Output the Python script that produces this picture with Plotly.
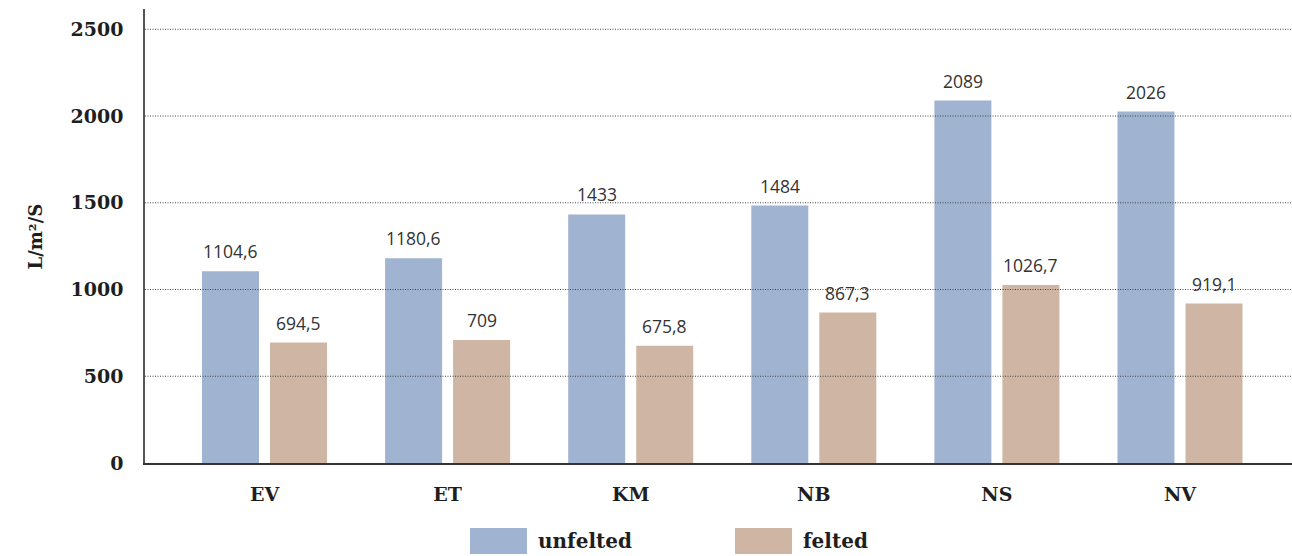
import plotly.graph_objects as go

# Flow rate per sample, unfelted vs felted (L/m²/S)
categories = ["EV", "ET", "KM", "NB", "NS", "NV"]
unfelted = [1104.6, 1180.6, 1433, 1484, 2089, 2026]
felted = [694.5, 709, 675.8, 867.3, 1026.7, 919.1]
series_names = ["unfelted", "felted"]
y_ticks = [0, 500, 1000, 1500, 2000, 2500]

BLUE = "#A0B3D0"
TAN = "#CFB5A3"
INK = "#1E1E1E"
SLAB = "DejaVu Serif"
SANS = "Open Sans"

W, H = 1292, 556
M_L, M_R, M_T, M_B = 145, 0, 9, 93
PLOT_W = W - M_L - M_R
PLOT_H = H - M_T - M_B


def px_x(px):
    return (px - M_L) / PLOT_W


def px_y(py):
    return (H - M_B - py) / PLOT_H


def fmt(v):
    s = f"{v:.1f}".rstrip("0").rstrip(".")
    return s.replace(".", ",")


x_idx = list(range(len(categories)))

fig = go.Figure()
for name, vals, col in [(series_names[0], unfelted, BLUE), (series_names[1], felted, TAN)]:
    fig.add_trace(go.Bar(x=x_idx, y=vals, name=name, marker=dict(color=col, line=dict(width=0)),
                         showlegend=False))

bargap = 0.257
bargroupgap = 0.162
slot = (1 - bargap) / 2

annotations = []
for k, vals in enumerate([unfelted, felted]):
    off = (k - 0.5) * slot
    for i, v in enumerate(vals):
        annotations.append(dict(x=i + off, y=v, xref="x", yref="y", text=fmt(v), showarrow=False,
                                yanchor="bottom", yshift=6,
                                font=dict(family=SANS, size=17.5, color="#333333")))

# y-axis title
annotations.append(dict(x=px_x(22), y=0.5, xref="paper", yref="paper", text="L/m²/S",
                        textangle=-90, showarrow=False,
                        font=dict(family=SLAB, size=18, color=INK, weight="bold")))

shapes = []
# dotted gridlines drawn over the bars
for t in y_ticks[1:]:
    shapes.append(dict(type="line", xref="paper", yref="y", x0=0, x1=1, y0=t, y1=t, layer="above",
                       line=dict(color="#444444", width=1, dash="1px,1.5px")))

# legend swatches and labels
legend_items = [(series_names[0], BLUE, 470), (series_names[1], TAN, 735)]
for name, col, left in legend_items:
    shapes.append(dict(type="rect", xref="paper", yref="paper", x0=px_x(left), x1=px_x(left + 57),
                       y0=px_y(554), y1=px_y(528), line=dict(width=0), fillcolor=col))
    annotations.append(dict(x=px_x(left + 66), y=px_y(541), xref="paper", yref="paper", text=name,
                            xanchor="left", yanchor="middle", showarrow=False,
                            font=dict(family=SLAB, size=20, color=INK, weight="bold")))

fig.update_layout(
    width=W, height=H,
    margin=dict(l=M_L, r=M_R, t=M_T, b=M_B),
    paper_bgcolor="white", plot_bgcolor="white",
    barmode="group", bargap=bargap, bargroupgap=bargroupgap,
    annotations=annotations, shapes=shapes,
    xaxis=dict(range=[-0.6527, 5.6117], tickvals=x_idx, ticktext=categories,
               showgrid=False, zeroline=False, showline=True, linecolor="#333333", linewidth=2,
               layer="above traces", ticks="outside", ticklen=13, tickcolor="rgba(0,0,0,0)",
               tickfont=dict(family=SLAB, size=19, color=INK, weight="bold")),
    yaxis=dict(range=[0, 2617], tickvals=y_ticks, showgrid=False, zeroline=False,
               showline=True, linecolor="#555555", linewidth=1.5,
               ticks="outside", ticklen=16, tickcolor="rgba(0,0,0,0)",
               tickfont=dict(family=SLAB, size=19, color=INK, weight="bold")),
)

fig.write_html("out.html")
